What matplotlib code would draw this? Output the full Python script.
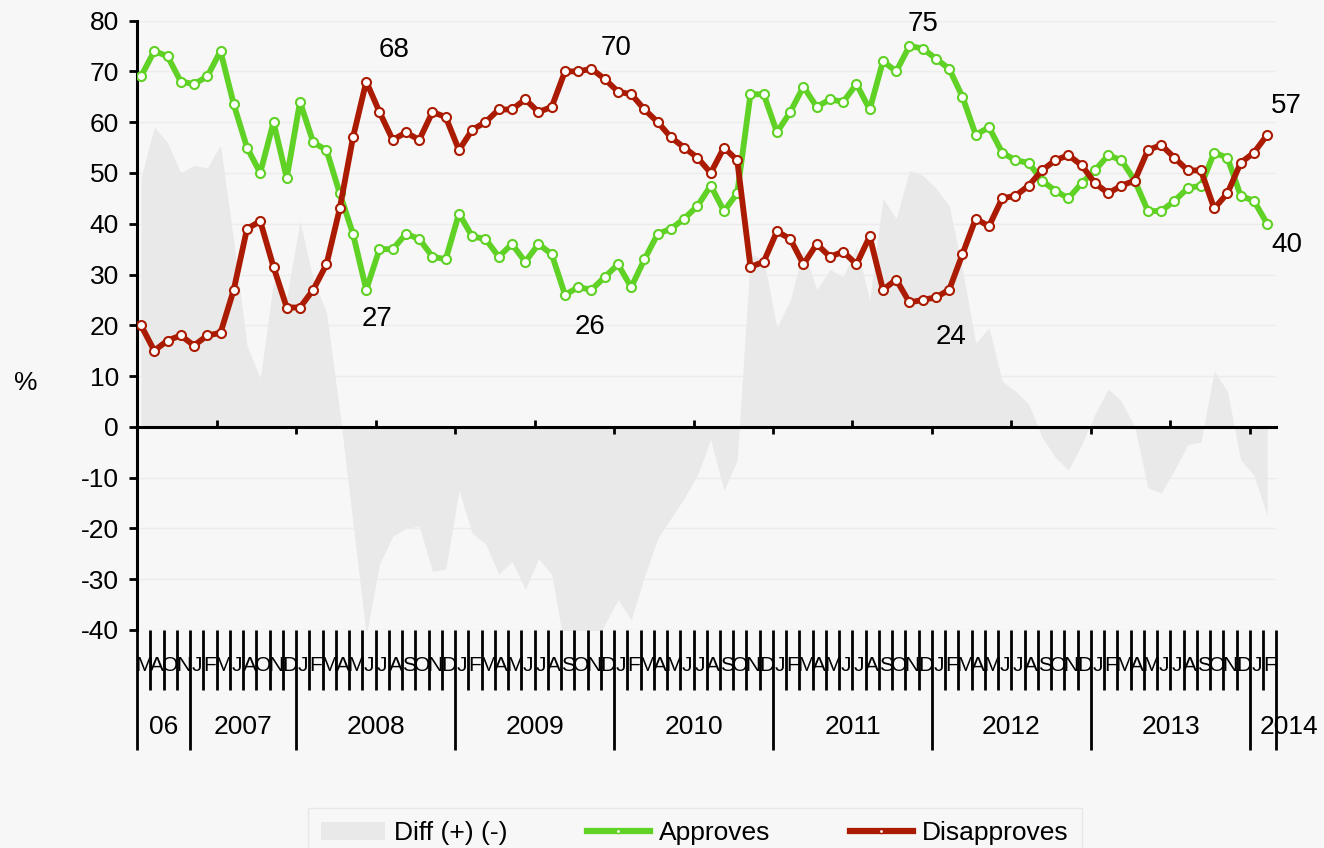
import numpy as np
import matplotlib
matplotlib.use("Agg")
import matplotlib.pyplot as plt
import matplotlib.transforms as mtransforms
from matplotlib.lines import Line2D
from matplotlib.patches import Patch

plt.rcParams['font.family'] = ['Liberation Sans', 'DejaVu Sans']
plt.rcParams['axes.unicode_minus'] = False

# Meses com pesquisa (uma categoria por ponto)
month_labels = ['M', 'A', 'O', 'N',
                'J', 'F', 'M', 'J', 'A', 'O', 'N', 'D'] + \
               ['J', 'F', 'M', 'A', 'M', 'J', 'J', 'A', 'S', 'O', 'N', 'D'] * 6 + \
               ['J', 'F']
year_labels = ['06', '2007', '2008', '2009', '2010', '2011', '2012', '2013', '2014']
year_counts = [4, 8, 12, 12, 12, 12, 12, 12, 2]

approves = [69, 74, 73, 68, 67.5, 69, 74, 63.5, 55, 50, 60, 49,
            64, 56, 54.5, 46, 38, 27, 35, 35, 38, 37, 33.5, 33,
            42, 37.5, 37, 33.5, 36, 32.5, 36, 34, 26, 27.5, 27, 29.5,
            32, 27.5, 33, 38, 39, 41, 43.5, 47.5, 42.5, 46, 65.5, 65.5,
            58, 62, 67, 63, 64.5, 64, 67.5, 62.5, 72, 70, 75, 74.5,
            72.5, 70.5, 65, 57.5, 59, 54, 52.5, 52, 48.5, 46.5, 45, 48,
            50.5, 53.5, 52.5, 48.5, 42.5, 42.5, 44.5, 47, 47.5, 54, 53, 45.5,
            44.5, 40]
disapproves = [20, 15, 17, 18, 16, 18, 18.5, 27, 39, 40.5, 31.5, 23.5,
               23.5, 27, 32, 43, 57, 68, 62, 56.5, 58, 56.5, 62, 61,
               54.5, 58.5, 60, 62.5, 62.5, 64.5, 62, 63, 70, 70, 70.5, 68.5,
               66, 65.5, 62.5, 60, 57, 55, 53, 50, 55, 52.5, 31.5, 32.5,
               38.5, 37, 32, 36, 33.5, 34.5, 32, 37.5, 27, 29, 24.5, 25,
               25.5, 27, 34, 41, 39.5, 45, 45.5, 47.5, 50.5, 52.5, 53.5, 51.5,
               48, 46, 47.5, 48.5, 54.5, 55.5, 53, 50.5, 50.5, 43, 46, 52,
               54, 57.5]

# Rotulos: (indice do ponto, deslocamento em pontos)
labels_approves = [(17, (8, -21)), (32, (18, -23)), (58, (10, 16)), (85, (14, -15))]
labels_disapproves = [(17, (20, 23)), (34, (18, 15)), (58, (30, -25)), (85, (14, 21))]

GREEN = '#60d125'
RED = '#ab1b02'
BG = '#f7f7f7'
FILL = '#e9e9e9'

approves = np.array(approves)
disapproves = np.array(disapproves)
diff = approves - disapproves
n = len(approves)
x = np.arange(n) + 0.3

fig = plt.figure(figsize=(13.24, 8.48), dpi=100, facecolor=BG)
ax = fig.add_axes([0.1035, 0.2571, 0.8606, 0.7186])
ax.set_facecolor(BG)
ax.set_xlim(0, n)
ax.set_ylim(-40, 80)

yticks = list(range(-40, 81, 10))
for yv in yticks:
    ax.axhline(yv, color='#ececec', lw=1, zorder=0.2)

ax.fill_between(x, diff, 0, color=FILL, lw=0, zorder=0.4)
ax.plot(x, approves, color=GREEN, lw=4.2, marker='o', ms=6.5, mfc='white',
        mec=GREEN, mew=1.5, zorder=3)
ax.plot(x, disapproves, color=RED, lw=4.2, marker='o', ms=6.5, mfc='white',
        mec=RED, mew=1.5, zorder=4)

for i, off in labels_approves:
    ax.annotate(f'{approves[i]:.0f}', (x[i], approves[i]), xytext=off,
                textcoords='offset points', fontsize=20, ha='center', va='center')
for i, off in labels_disapproves:
    ax.annotate(f'{int(disapproves[i])}', (x[i], disapproves[i]), xytext=off,
                textcoords='offset points', fontsize=20, ha='center', va='center')

# Eixos
for s in ['top', 'right']:
    ax.spines[s].set_visible(False)
ax.spines['left'].set_linewidth(2.2)
ax.spines['bottom'].set_position(('data', 0))
ax.spines['bottom'].set_linewidth(2.2)

ax.set_yticks(yticks)
ax.tick_params(axis='y', direction='out', length=6, width=2, labelsize=19, pad=7)
ax.set_xticks(range(0, n + 1, 12))
ax.set_xticks(range(6, n, 12), minor=True)
ax.tick_params(axis='x', which='major', direction='out', length=5, width=2,
               labelbottom=False)
ax.tick_params(axis='x', which='minor', direction='in', length=5, width=2,
               labelbottom=False)

# Rotulos de meses e anos abaixo do grafico
trans = mtransforms.blended_transform_factory(ax.transData, ax.transAxes)
year_edges = np.concatenate([[0], np.cumsum(year_counts)])
month_edges = [k for k in range(1, n) if k not in year_edges]
ax.vlines(month_edges, -0.098, 0, transform=trans, colors='black', lw=2,
          clip_on=False)
ax.vlines(year_edges, -0.197, 0, transform=trans, colors='black', lw=2,
          clip_on=False)
for k, lab in enumerate(month_labels):
    ax.text(k + 0.5, -0.058, lab, transform=trans, ha='center', va='center',
            fontsize=15, clip_on=False)
for j, lab in enumerate(year_labels):
    if j == len(year_labels) - 1:
        ax.text(year_edges[j] + 0.7, -0.16, lab, transform=trans, ha='left',
                va='center', fontsize=19)
    else:
        ax.text((year_edges[j] + year_edges[j + 1]) / 2, -0.16, lab,
                transform=trans, ha='center', va='center', fontsize=19)

fig.text(14 / 1324, 1 - 383 / 848, '%', fontsize=19, va='center')

handles = [Patch(facecolor=FILL, edgecolor='none'),
           Line2D([], [], color=GREEN, lw=4.5, marker='o', ms=3, mfc='white', mec=GREEN),
           Line2D([], [], color=RED, lw=4.5, marker='o', ms=3, mfc='white', mec=RED)]
leg = fig.legend(handles, ['Diff (+) (-)', 'Approves', 'Disapproves'],
                 loc='upper center', bbox_to_anchor=(0.525, 0.047), ncol=3,
                 frameon=True, facecolor=BG, edgecolor='#e4e4e4', fancybox=False,
                 fontsize=19, handlelength=2.4, handletextpad=0.35,
                 columnspacing=3.0, borderpad=0.5, borderaxespad=0)
leg.get_frame().set_linewidth(1)

fig.savefig('out.png', dpi=100, facecolor=BG)
